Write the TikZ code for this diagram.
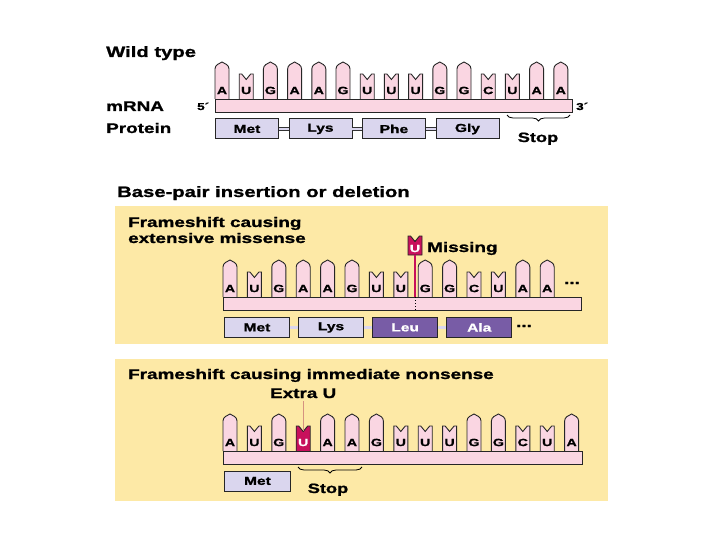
\documentclass[tikz,border=0pt]{standalone}
\usepackage{fontspec}
\setmainfont{Liberation Sans}[FakeStretch=1.35, BoldFeatures={FakeBold=1.2}]
\usepackage{tikz}
\usetikzlibrary{positioning, decorations.pathreplacing}
\usepackage{xcolor}

\definecolor{panelyellow}{RGB}{253,233,166}
\definecolor{rnapink}{RGB}{250,214,226}
\definecolor{protlav}{RGB}{218,214,238}
\definecolor{protdark}{RGB}{120,92,166}
\definecolor{mutmag}{RGB}{200,16,92}
\definecolor{extrausalmon}{RGB}{214,146,128}

% purine (A, G): tall, pointed top; args: left x, top of bar, fill
\newcommand{\purinebox}[3]{%
  \draw[rnabase, fill=#3] ({#1},{#2}) -- ({#1},{#2-30})
    .. controls ({#1},{#2-34}) and ({#1+4},{#2-35.5}) .. ({#1+7},{#2-37})
    .. controls ({#1+10},{#2-35.5}) and ({#1+14},{#2-34}) .. ({#1+14},{#2-30})
    -- ({#1+14},{#2});}
% pyrimidine (U, C): short, notched top
\newcommand{\pyrimbox}[3]{%
  \draw[rnabase, fill=#3] ({#1},{#2}) -- ({#1},{#2-25}) -- ({#1+2.5},{#2-25})
    -- ({#1+7},{#2-19.5}) -- ({#1+11.5},{#2-25}) -- ({#1+14},{#2-25}) -- ({#1+14},{#2});}

\begin{document}
\begin{tikzpicture}[
    x=1pt, y=-1pt,
    txt/.style={font=\bfseries\fontsize{14}{16}\selectfont, inner sep=0, anchor=base west},
    bigtxt/.style={txt, font=\bfseries\fontsize{15}{17}\selectfont},
    primetxt/.style={font=\bfseries\fontsize{10}{11}\selectfont, inner sep=0, anchor=base west},
    basetxt/.style={font=\bfseries\fontsize{10.5}{11}\selectfont, inner sep=0},
    rnabase/.style={draw=black!85, line width=0.9pt},
    rnabar/.style={draw=black!85, fill=rnapink, line width=0.9pt, minimum height=13pt, inner sep=0, anchor=north west},
    aa/.style={draw=black!85, fill=protlav, line width=0.9pt, minimum height=20pt, inner sep=0, font=\bfseries\fontsize{11.5}{12}\selectfont},
    aadark/.style={aa, fill=protdark, text=white},
    link/.style={black!80, line width=0.6pt, double=protlav, double distance=2.4pt},
    stopbrace/.style={decorate, decoration={brace, mirror, amplitude=6pt}, line width=0.8pt},
    stoptxt/.style={font=\bfseries\fontsize{13.5}{15}\selectfont, inner sep=0, anchor=base},
    more/.style={font=\bfseries\fontsize{14}{14}\selectfont, inner sep=0},
    missline/.style={mutmag, line width=1.3pt},
    extraline/.style={extrausalmon, line width=1.3pt},
]
    \fill[white] (0,0) rectangle (720,540);
    \useasboundingbox (0,0) rectangle (720,540);

    % Wild type
    \node[bigtxt] (wtitle) at (106,57) {Wild type};
    \node[txt] (mrna) at (106,111) {mRNA};
    \node[txt] (protein) at (106,133) {Protein};

    \foreach \l/\t [count=\i from 0] in {A/p,U/y,G/p,A/p,A/p,G/p,U/y,U/y,U/y,G/p,G/p,C/y,U/y,A/p,A/p}{
        \pgfmathsetmacro{\bx}{215+24.2*\i}
        \if p\t \purinebox{\bx}{99}{rnapink}\else\pyrimbox{\bx}{99}{rnapink}\fi
        \node[basetxt] (w\i) at (\bx+7,90.5) {\l};
    }
    \node[rnabar, minimum width=357pt] (wbar) at (215,99) {};
    \node[primetxt] (w5) at (197,110) {5´};
    \node[primetxt] (w3) at (576,110) {3´};

    \node[aa, minimum width=63pt, anchor=north west] (wmet) at (215,118.5) {Met};
    \node[aa, minimum width=63pt, right=9.6pt of wmet] (wlys) {Lys};
    \node[aa, minimum width=63pt, right=9.6pt of wlys] (wphe) {Phe};
    \node[aa, minimum width=63pt, right=9.6pt of wphe] (wgly) {Gly};
    \draw[link] (wmet) -- (wlys);
    \draw[link] (wlys) -- (wphe);
    \draw[link] (wphe) -- (wgly);

    \coordinate (ws1) at (507,115);
    \coordinate (ws2) at (570,115);
    \draw[stopbrace] (ws1) -- (ws2);
    \node[stoptxt] (wstop) at (538,142) {Stop};

    % Insertion / deletion
    \node[bigtxt] (bptitle) at (117,197) {Base-pair insertion or deletion};

    % Missense panel
    \fill[panelyellow] (115,206) rectangle (608,344);
    \node[txt] (mtitle1) at (128,227) {Frameshift causing};
    \node[txt] (mtitle2) at (128,243) {extensive missense};

    \foreach \l/\t [count=\i from 0] in {A/p,U/y,G/p,A/p,A/p,G/p,U/y,U/y,G/p,G/p,C/y,U/y,A/p,A/p}{
        \pgfmathsetmacro{\bx}{223+24.4*\i}
        \if p\t \purinebox{\bx}{297}{rnapink}\else\pyrimbox{\bx}{297}{rnapink}\fi
        \node[basetxt] (m\i) at (\bx+7,288.5) {\l};
    }
    \node[rnabar, minimum width=358pt] (mbar) at (223,297) {};
    \node[more] (mdots) at (572,283) {...};

    \draw[rnabase, fill=mutmag] (408,255) -- (408,236) -- (410.5,236) -- (415,241.5)
        -- (419.5,236) -- (422,236) -- (422,255) -- cycle;
    \node[basetxt, text=white] (missu) at (415,248.5) {U};
    \node[txt] (missing) at (427,252) {Missing};
    \coordinate (cut) at (415,297);
    \coordinate (cutend) at (415,310);
    \draw[missline] (missu.south) ++(0,2.5) -- (cut);
    \draw[dotted, line width=1pt] (cut) -- (cutend);

    \node[aa, minimum width=65pt, anchor=north west] (mmet) at (224,317) {Met};
    \node[aa, minimum width=65pt, right=8.2pt of mmet] (mlys) {Lys};
    \node[aadark, minimum width=65pt, right=8.2pt of mlys] (mleu) {Leu};
    \node[aadark, minimum width=65pt, right=8.2pt of mleu] (mala) {Ala};
    \draw[link] (mmet) -- (mlys);
    \draw[link] (mlys) -- (mleu);
    \draw[link] (mleu) -- (mala);
    \node[more] (mdots2) at (524,326) {...};

    % Nonsense panel
    \fill[panelyellow] (115,359) rectangle (608,501);
    \node[txt] (ntitle) at (128,379) {Frameshift causing immediate nonsense};
    \node[txt, anchor=base, outer sep=3pt] (xu) at (303.2,398) {Extra U};

    \foreach \l/\t/\c [count=\i from 0] in {A/p/n,U/y/n,G/p/n,U/y/m,A/p/n,A/p/n,G/p/n,U/y/n,U/y/n,U/y/n,G/p/n,G/p/n,C/y/n,U/y/n,A/p/n}{
        \pgfmathsetmacro{\bx}{223+24.4*\i}
        \if m\c \def\bfill{mutmag}\def\tcol{white}\else\def\bfill{rnapink}\def\tcol{black}\fi
        \if p\t \purinebox{\bx}{451}{\bfill}\else\pyrimbox{\bx}{451}{\bfill}\fi
        \node[basetxt, text=\tcol] (n\i) at (\bx+7,442.5) {\l};
    }
    \node[rnabar, minimum width=359pt] (nbar) at (223,451) {};
    \coordinate (utop) at (303.2,431);
    \draw[extraline] (xu.south) -- (utop);

    \node[aa, minimum width=66pt, anchor=north west] (nmet) at (224,470.5) {Met};
    \coordinate (ns1) at (298,467);
    \coordinate (ns2) at (362,467);
    \draw[stopbrace] (ns1) -- (ns2);
    \node[stoptxt] (nstop) at (328,493) {Stop};
\end{tikzpicture}
\end{document}
